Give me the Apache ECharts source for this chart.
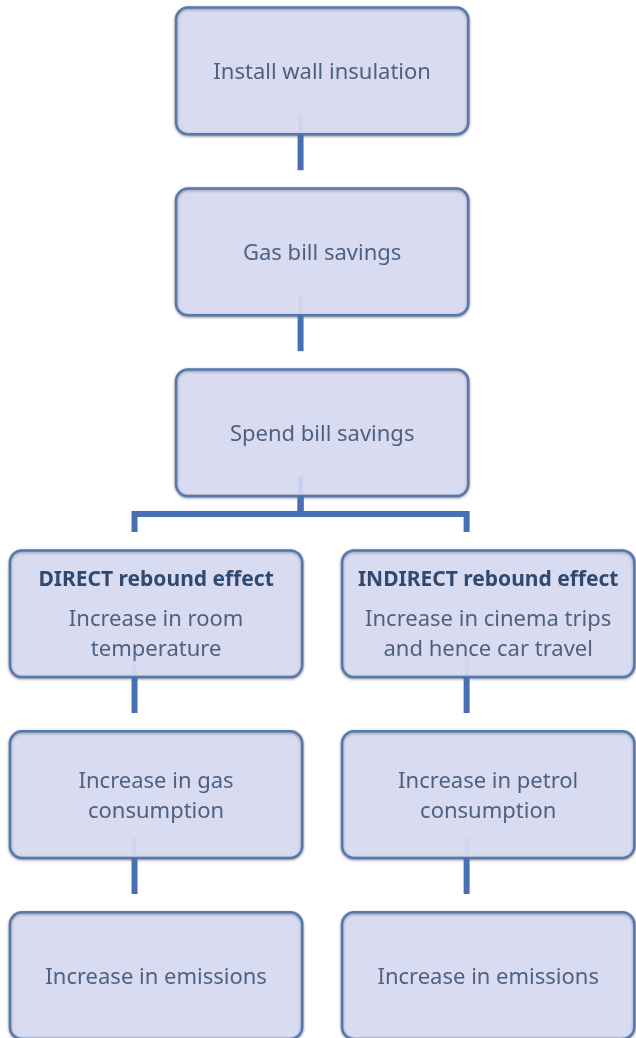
<!DOCTYPE html>
<html lang="en">
  <head>
    <meta charset="UTF-8" />
    <title>Rebound effect</title>
    <style>
      html, body { margin: 0; padding: 0; background: #fff; }
    </style>
  </head>
  <body>
    <div id="main" style="width: 636px; height: 1038px"></div>

    <script src="https://cdn.jsdelivr.net/npm/echarts@6/dist/echarts.min.js"></script>
    <script>
      // ===== data =====
      const headings = ['', '', '', 'DIRECT rebound effect', 'INDIRECT rebound effect', '', '', '', '']
      const labels = [
        'Install wall insulation',
        'Gas bill savings',
        'Spend bill savings',
        'Increase in room\ntemperature',
        'Increase in cinema trips\nand hence car travel',
        'Increase in gas\nconsumption',
        'Increase in petrol\nconsumption',
        'Increase in emissions',
        'Increase in emissions'
      ]
      // column: -1 left, 0 middle, 1 right ; row: level from top
      const columns = [0, 0, 0, -1, 1, -1, 1, -1, 1]
      const rows = [0, 1, 2, 3, 3, 4, 4, 5, 5]
      const links = [[0, 1], [1, 2], [2, 3], [2, 4], [3, 5], [4, 6], [5, 7], [6, 8]]

      // ===== styles =====
      const BOX_W = 1.76   // in column units
      const BOX_H = 0.70   // in row units
      const LINK_DX = -0.13 // connectors sit a bit left of box centre
      const FONT = '"Noto Sans", sans-serif'

      const nodeData = labels.map((l, i) => [columns[i], rows[i], i])
      const linkData = links.map(([a, b]) => [columns[a], rows[a], columns[b], rows[b]])

      const myChart = echarts.init(document.getElementById('main'))

      function renderBox(params, api) {
        const i = api.value(2)
        const c = api.coord([api.value(0), api.value(1)])
        const s = api.size([BOX_W, BOX_H])
        const w = s[0], h = s[1]
        const children = [
          {
            type: 'rect',
            shape: { x: c[0] - w / 2, y: c[1] - h / 2, width: w, height: h, r: 12 },
            style: {
              fill: '#d9dbf1',
              stroke: '#5578b0',
              lineWidth: 2.5,
              shadowBlur: 3,
              shadowOffsetY: 1,
              shadowColor: 'rgba(0,0,0,0.35)'
            }
          }
        ]
        if (headings[i]) {
          children.push({
            type: 'text',
            style: {
              x: c[0], y: c[1] - 34, text: headings[i],
              align: 'center', verticalAlign: 'middle',
              font: 'bold 21px ' + FONT, fill: '#2f4a72'
            }
          })
        }
        children.push({
          type: 'text',
          style: {
            x: c[0], y: headings[i] ? c[1] + 21 : c[1] + 2, text: labels[i],
            align: 'center', verticalAlign: 'middle', lineHeight: 30,
            font: '22px ' + FONT, fill: '#4d6283'
          }
        })
        return { type: 'group', children: children }
      }

      function renderLink(params, api) {
        const p = api.coord([api.value(0) + LINK_DX, api.value(1)])
        const q = api.coord([api.value(2) + LINK_DX, api.value(3)])
        const hh = api.size([0, BOX_H])[1] / 2
        const yb = p[1] + hh
        return {
          type: 'group',
          children: [
            {
              // faint reflection of the connector inside the box
              type: 'line',
              shape: { x1: p[0], y1: yb - 20, x2: p[0], y2: yb - 2 },
              style: { stroke: 'rgba(170,190,230,0.22)', lineWidth: 4 }
            },
            {
              type: 'polyline',
              shape: { points: [[p[0], yb], [p[0], yb + 18], [q[0], yb + 18], [q[0], yb + 36]] },
              style: { stroke: '#4670b0', lineWidth: 6, fill: null, lineJoin: 'miter', lineCap: 'butt' }
            }
          ]
        }
      }

      const option = {
        backgroundColor: '#ffffff',
        animation: false,
        grid: { left: 0, right: 0, top: 0, bottom: 0 },
        xAxis: { type: 'value', min: -1.94, max: 1.89, show: false },
        yAxis: { type: 'value', min: -0.392, max: 5.345, inverse: true, show: false },
        series: [
          { type: 'custom', renderItem: renderBox, data: nodeData, z: 2, clip: false },
          { type: 'custom', renderItem: renderLink, data: linkData, z: 3, clip: false }
        ]
      }

      myChart.setOption(option)
    </script>
  </body>
</html>
